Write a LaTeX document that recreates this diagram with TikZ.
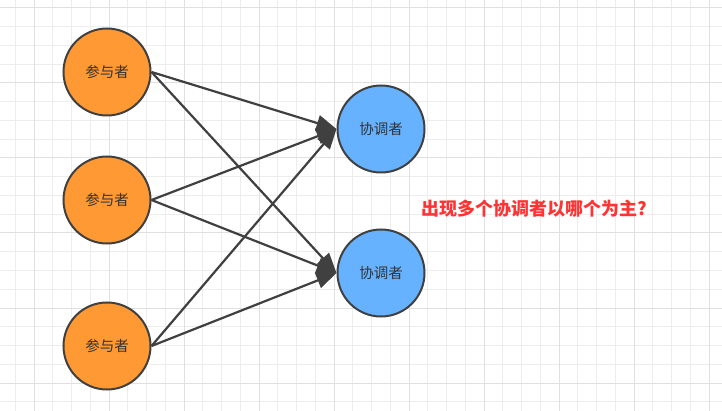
\documentclass[tikz,border=0pt]{standalone}
\usepackage{fontspec}
\newfontfamily\cjk{Noto Sans CJK SC}
\usepackage{tikz}
\usetikzlibrary{arrows.meta}

\definecolor{partorange}{HTML}{FF9933}
\definecolor{coordblue}{HTML}{66B2FF}
\definecolor{edgegray}{HTML}{404040}
\definecolor{noteRed}{HTML}{FF3333}

\begin{document}
\begin{tikzpicture}[
        x=1pt, y=-1pt,
        % styles for the background grid
        minor/.style={line width=1pt, draw=black!7},
        major/.style={line width=1pt, draw=black!12},
        % circles for participants and coordinators
        part/.style={circle, draw=edgegray, line width=2pt, fill=partorange, minimum size=87pt, inner sep=0pt, font=\cjk\fontsize{14.5}{16}\selectfont, text=black!80},
        coord/.style={part, fill=coordblue},
        link/.style={draw=edgegray, line width=2.2pt, -{Triangle[length=20pt,width=16pt]}}
    ]

        % 0. background and grid
        \useasboundingbox (0,0) rectangle (722,411);
        \fill[white] (0,0) rectangle (722,411);
        \foreach \i in {-1,...,36}
            \draw[minor] ({34+18.75*\i},0) -- ++(0,411);
        \foreach \i in {0,...,21}
            \draw[minor] (0,{8+18.75*\i}) -- ++(722,0);
        \foreach \i in {0,...,9}
            \draw[major] ({34+75*\i},0) -- ++(0,411);
        \foreach \i in {0,...,5}
            \draw[major] (0,{8+75*\i}) -- ++(722,0);

        % 1. participants on the left
        \node[part] (p1) at (107,72) {参与者};
        \node[part] (p2) at (107,200) {参与者};
        \node[part] (p3) at (107,346) {参与者};

        % 2. coordinators on the right
        \node[coord] (c1) at (381,129) {协调者};
        \node[coord] (c2) at (381,273) {协调者};

        % 3. links
        \draw[link] (p1.east) -- (c1.west);
        \draw[link] (p1.east) -- (c2.west);
        \draw[link] (p2.east) -- (c1.west);
        \draw[link] (p2.east) -- (c2.west);
        \draw[link] (p3.east) -- (c1.west);
        \draw[link] (p3.east) -- (c2.west);

        % 4. question
        \node[anchor=west, text=noteRed, font=\cjk\bfseries\fontsize{18}{20}\selectfont] (q) at (418,209) {出现多个协调者以哪个为主?};

    \end{tikzpicture}
\end{document}
